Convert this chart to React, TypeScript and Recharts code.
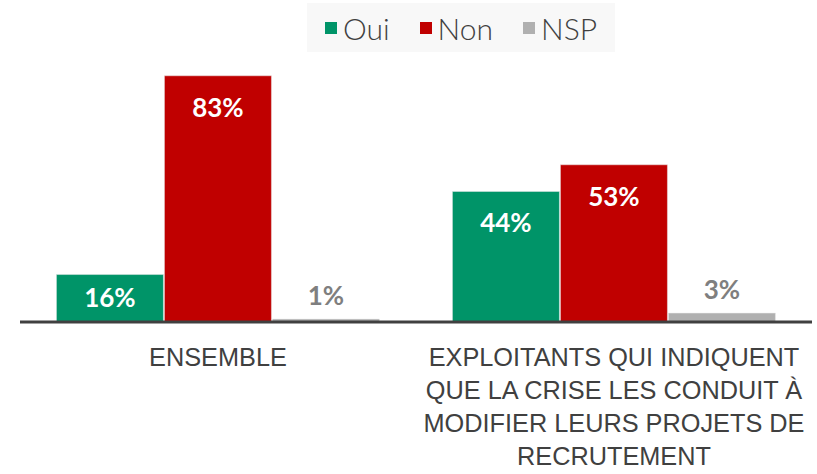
import React from 'react';
import { BarChart, Bar, XAxis, YAxis, LabelList } from 'recharts';

const categories = ['ENSEMBLE', 'EXPLOITANTS QUI INDIQUENT\nQUE LA CRISE LES CONDUIT À\nMODIFIER LEURS PROJETS DE\nRECRUTEMENT'];
const oui = [16, 44];
const non = [83, 53];
const nsp = [1, 3];

const seriesNames = ['Oui', 'Non', 'NSP'];
const colors = ['#009468', '#c00000', '#b0b0b0'];

const data = categories.map((c, i) => ({ name: c, Oui: oui[i], Non: non[i], NSP: nsp[i] }));

const labelFont = "'Lato', 'DejaVu Sans', sans-serif";
const textFont = "'Liberation Sans', Arial, sans-serif";

const CategoryTick = (props: any) => {
  const { x, y, payload } = props;
  const lines = String(payload.value).split('\n');
  return (
    <text x={x} y={y + 36} textAnchor="middle" fill="#404040" fontSize={25.3} fontFamily={textFont}>
      {lines.map((l, i) => (
        <tspan key={i} x={x} dy={i === 0 ? 0 : 33}>{l}</tspan>
      ))}
    </text>
  );
};

const makeLabel = (outside: boolean) => (props: any) => {
  const { x, y, width, height, value } = props;
  const cx = x + width / 2;
  let ty: number;
  if (outside) ty = y - 14;
  else if (height > 70) ty = y + 41;
  else ty = y + height / 2 + 9;
  return (
    <text x={cx} y={ty} textAnchor="middle" fill={outside ? '#7f7f7f' : '#ffffff'} fontSize={26} fontWeight="bold" fontFamily={labelFont}>
      {value}%
    </text>
  );
};

export default function App() {
  return (
    <div style={{ position: 'absolute', left: 0, top: 0, width: 817, height: 474, background: '#ffffff' }}>
      <div style={{ position: 'absolute', left: 307, top: 3, width: 308, height: 49, background: '#f8f8f8', display: 'flex', alignItems: 'center', justifyContent: 'center', gap: 30, fontFamily: "'Lato', sans-serif", fontWeight: 300, fontSize: 30, color: '#404040' }}>
        {seriesNames.map((n, i) => (
          <div key={n} style={{ display: 'flex', alignItems: 'center', gap: 6 }}>
            <span style={{ width: 12, height: 12, background: colors[i], display: 'inline-block' }} />
            <span>{n}</span>
          </div>
        ))}
      </div>
      <BarChart width={817} height={474} data={data} margin={{ top: 55, right: 5, bottom: 0, left: 20 }} barCategoryGap="9.2%" barGap={1}>
        <XAxis dataKey="name" height={152} tickLine={false} axisLine={{ stroke: '#404040', strokeWidth: 3 }} tick={<CategoryTick />} interval={0} />
        <YAxis hide domain={[0, 90]} />
        {seriesNames.map((n, i) => (
          <Bar key={n} dataKey={n} fill={colors[i]} stroke="#e8e8e8" strokeWidth={0.5} isAnimationActive={false}>
            <LabelList dataKey={n} content={makeLabel(n === 'NSP')} />
          </Bar>
        ))}
      </BarChart>
    </div>
  );
}
